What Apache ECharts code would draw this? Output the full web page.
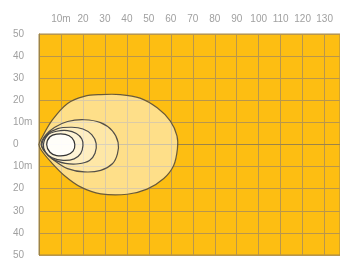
<!DOCTYPE html>
<html><head><meta charset="utf-8">
<script src="https://cdn.jsdelivr.net/npm/echarts@6/dist/echarts.min.js"></script>
<style>html,body{margin:0;padding:0;background:#fff}#c{width:340px;height:260px}</style>
</head><body><div id="c"></div>
<script>
// distance ticks (metres)
var xTicks = [0,10,20,30,40,50,60,70,80,90,100,110,120,130];
var xMax = 137;
var yTicks = [-50,-40,-30,-20,-10,0,10,20,30,40,50];
// iso-contours, outer to inner: [x, y] in metres
var contourOuter = [[0,0],[1,2.5],[6,11],[13,18.6],[20.6,21.8],[28,22.6],[37,22.6],[46,21],[53.8,16.6],[59.8,10.6],[62.8,3.9],[63,-2],[61.3,-9.5],[56.8,-15.4],[49.2,-20.2],[40.2,-22.5],[28.1,-22.3],[19.1,-19.3],[11.5,-14],[5.5,-8],[1,-2.5]];
var contour2 = [[1,0.3],[3,4.2],[7,7.7],[13,10.4],[20.6,11.2],[28,9.9],[33.4,6.2],[36,1],[35.7,-4.2],[33.4,-8.7],[28.1,-11.7],[20.6,-12.4],[13,-10.9],[7,-7.2],[2.5,-3]];
var contour3 = [[1.3,0],[3.5,4.3],[8.5,7.2],[15,7.8],[20,7],[24,4.5],[26,0.5],[25.5,-4],[23,-7.2],[18,-8.7],[12,-8.5],[6,-6.5],[2.5,-3]];
var contour4 = [[2,0],[4,4.3],[8,6],[13,6.3],[17,5],[19.5,2.5],[20,-0.5],[19,-4],[16,-6.5],[11,-7.2],[6,-6],[3,-3.5]];
var contourInner = [[3.5,0],[5,3.5],[8,4.7],[12,4.6],[15,3],[16.3,0],[15.5,-3],[12.5,-4.8],[8,-5],[5,-3.5]];

var contours = [contourOuter, contour2, contour3, contour4, contourInner];
var fills = ['rgba(255,255,255,0.5)','rgba(255,255,255,0.25)','rgba(255,255,255,0.3)','rgba(255,255,255,0.35)','rgba(255,255,255,0.85)'];
var strokes = ['#6a5a38','#555048','#4a4a4a','#444','#333'];

var chart = echarts.init(document.getElementById('c'), null, {renderer:'canvas'});
function fmt(v){ var a = Math.abs(v); if (a === 0) return '0'; if (a === 10) return '10m'; return String(a); }
chart.setOption({
  animation:false,
  grid:{left:39, top:34, right:0, bottom:3, show:true, backgroundColor:'#FDBE12', borderColor:'#a88a45', borderWidth:1},
  xAxis:{type:'value', position:'top', min:xTicks[0], max:xMax, interval:10,
    axisLine:{show:true, lineStyle:{color:'#9c8448'}}, axisTick:{show:false},
    axisLabel:{color:'#a0a0a0', fontSize:10, fontFamily:'Liberation Sans, Arial', margin:10, showMaxLabel:false,
      formatter:function(v){ return (v === 0 || xTicks.indexOf(v) < 0) ? '' : fmt(v); }},
    splitLine:{show:true, lineStyle:{color:'#b8964c', width:1}}},
  yAxis:{type:'value', min:yTicks[0], max:yTicks[yTicks.length-1], interval:10,
    axisLine:{show:true, lineStyle:{color:'#9c8448'}}, axisTick:{show:false},
    axisLabel:{color:'#a0a0a0', fontSize:10, fontFamily:'Liberation Sans, Arial', margin:26, align:'left', formatter:fmt},
    splitLine:{show:true, lineStyle:{color:'#b8964c', width:1}}},
  series:[{
    type:'custom',
    data: contours.map(function(c, i){ return [i, 0]; }),
    renderItem:function(params, api){
      var i = params.dataIndex;
      var pts = contours[i].map(function(p){ return api.coord(p); });
      return {type:'polygon', shape:{points:pts, smooth:0.35},
        style:{fill:fills[i], stroke:strokes[i], lineWidth:1.2}};
    }
  }]
});
</script></body></html>
